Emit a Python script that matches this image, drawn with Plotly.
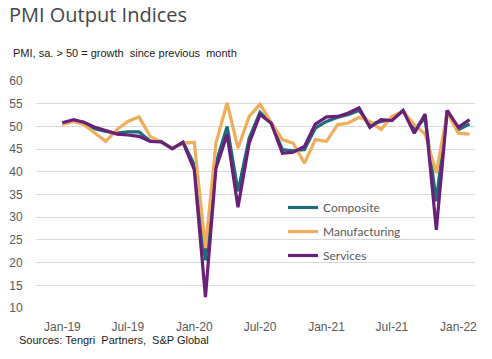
import plotly.graph_objects as go
import pandas as pd

months = pd.date_range("2019-01-01", "2022-02-01", freq="MS").strftime("%Y-%m-%d").tolist()

composite = [50.7, 51.3, 50.9, 49.5, 48.9, 48.5, 48.8, 48.8, 46.8, 46.7, 45.1, 46.5,
             41.6, 20.5, 41.9, 50.0, 35.7, 47.4, 53.1, 50.7, 44.9, 44.6, 44.9, 49.6,
             51.1, 52.0, 52.6, 53.5, 50.4, 51.1, 51.5, 53.5, 49.3, 51.8, 33.5, 53.5,
             49.3, 50.5]
manufacturing = [50.4, 51.1, 50.4, 48.5, 46.7, 49.3, 51.1, 52.1, 47.8, 46.6, 45.2, 46.3,
                 46.5, 23.2, 46.3, 55.2, 45.2, 52.2, 54.9, 50.9, 47.1, 46.3, 41.9, 47.1,
                 46.7, 50.4, 50.7, 52.0, 51.1, 49.3, 52.2, 53.3, 50.4, 48.3, 39.7, 53.0,
                 48.5, 48.3]
services = [50.8, 51.5, 50.9, 49.8, 49.1, 48.3, 48.1, 47.8, 46.7, 46.6, 45.1, 46.5,
            40.5, 12.4, 40.8, 48.2, 32.2, 46.3, 52.6, 50.7, 44.1, 44.3, 45.6, 50.5,
            52.1, 52.2, 52.9, 54.1, 49.8, 51.5, 51.3, 53.5, 48.5, 52.7, 27.2, 53.5,
            49.8, 51.5]

series_names = ["Composite", "Manufacturing", "Services"]
series_colors = ["#1d6b79", "#f0ad5a", "#6a1f78"]
series_values = [composite, manufacturing, services]

title_text = "PMI Output Indices"
subtitle_text = "PMI, sa. > 50 = growth  since previous  month"
source_text = "Sources: Tengri  Partners,  S&P Global"

W, H = 492, 359
L, T = 36, 81
R = 492 - 475
B = 359 - 308
pw, ph = W - L - R, H - T - B


def px(x):
    return (x - L) / pw


def py(y):
    return (H - B - y) / ph


fig = go.Figure()
for i, (name, vals, col) in enumerate(zip(series_names, series_values, series_colors)):
    fig.add_trace(go.Scatter(
        x=months, y=vals, name=name, mode="lines",
        line=dict(color=col, width=3.2),
        legendgroup=name,
    ))

fig.update_layout(
    width=W, height=H,
    margin=dict(l=L, r=R, t=T, b=B, autoexpand=False),
    paper_bgcolor="white", plot_bgcolor="white",
    font=dict(family="Liberation Sans, Arial, sans-serif", color="#595959", size=12),
    showlegend=True,
    legend=dict(
        x=px(283), y=py(193), xanchor="left", yanchor="top",
        bgcolor="rgba(0,0,0,0)",
        font=dict(family="Lato, Open Sans, sans-serif", size=12, color="#595959"),
        tracegroupgap=5,
        traceorder="grouped",
    ),
    xaxis=dict(
        type="date", automargin=False,
        range=["2018-10-20", "2022-02-16"],
        tick0="2019-01-01", dtick="M6", tickformat="%b-%y",
        showgrid=False, zeroline=False, showline=False,
        ticks="outside", ticklen=8, tickcolor="rgba(0,0,0,0)",
        tickfont=dict(size=12, color="#595959"),
    ),
    yaxis=dict(
        range=[10, 60], dtick=5, tick0=10, automargin=False,
        showgrid=True, gridcolor="#d9d9d9", gridwidth=1,
        zeroline=False, showline=False,
        ticks="outside", ticklen=10, tickcolor="rgba(0,0,0,0)",
        tickfont=dict(size=12, color="#595959"),
    ),
    annotations=[
        dict(text=title_text, x=px(7), y=py(15), xref="paper", yref="paper",
             xanchor="left", yanchor="middle", showarrow=False,
             font=dict(family="Open Sans, sans-serif", size=20, color="#454545")),
        dict(text=subtitle_text, x=px(11), y=py(53), xref="paper", yref="paper",
             xanchor="left", yanchor="middle", showarrow=False,
             font=dict(family="Liberation Sans, Arial, sans-serif", size=11, color="#1a1a1a")),
        dict(text=source_text, x=px(17), y=py(340), xref="paper", yref="paper",
             xanchor="left", yanchor="middle", showarrow=False,
             font=dict(family="Liberation Sans, Arial, sans-serif", size=11, color="#1a1a1a")),
    ],
)

fig.write_html("out.html", config={"displayModeBar": False},
               post_script="document.body.style.margin='0';")
